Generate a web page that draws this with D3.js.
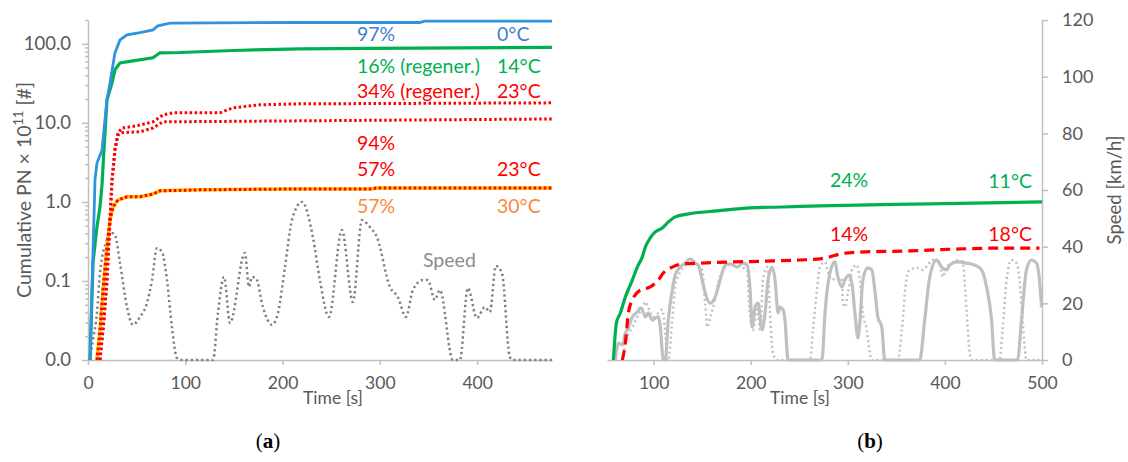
<!DOCTYPE html>
<html>
<head>
<meta charset="utf-8">
<script src="https://cdn.jsdelivr.net/npm/d3@7"></script>
<style>
  html, body { margin: 0; padding: 0; background: #ffffff; }
  svg { display: block; }
  text { font-family: Lato, "Open Sans", sans-serif; }
</style>
</head>
<body>
<svg id="chart" width="1128" height="462"></svg>
<script>
// ---------- Panel (a): cumulative particle number, log scale ----------
const aTicksY = [0.01, 0.1, 1, 10, 100];
const aTicksX = [0, 100, 200, 300, 400];

// 0 °C, 97 %
const blueTime = [2.1, 4.1, 7.2, 9.2, 14.4, 15.4, 19.5, 22.6, 27.7, 32.9, 40.1, 53.4, 66.8, 71.9, 84.3, 218, 341, 346, 477];
const blueCum  = [0.01, 0.077, 1.9, 3.1, 4.5, 6.1, 19.5, 32, 77, 112, 130, 138, 150, 169, 183, 186, 186, 194, 194];

// 14 °C, 16 % (regener.)
const greenTime = [2.1, 4.1, 5.1, 9.2, 12.3, 14.4, 16.4, 17.5, 19.5, 24.7, 27.7, 32.9, 46.2, 66.8, 74, 94.6, 149, 218, 287, 477];
const greenCum  = [0.01, 0.063, 0.169, 0.48, 0.86, 1.64, 4.55, 7.5, 19.5, 32, 46.9, 57.4, 60.9, 66.5, 76.9, 77.6, 82.3, 86.4, 87.7, 90.3];

// 23 °C, 34 % (regener.)
const redRegTime = [12.3, 16.4, 19.5, 22.6, 24.7, 25.7, 27.7, 30.8, 34.9, 50.4, 66.8, 77.1, 87.4, 135.7, 149, 176.8, 218, 477];
const redRegCum  = [0.01, 0.032, 0.103, 0.59, 1.9, 2.5, 4.55, 7.5, 8.6, 9.2, 10.3, 12.6, 13.4, 13.4, 15.5, 16.9, 17.4, 17.9];

// 23 °C, 94 %
const red94Time = [12.3, 16.4, 19.5, 22.6, 24.7, 25.7, 27.7, 30.8, 34.9, 53.4, 66.8, 77.1, 218, 477];
const red94Cum  = [0.01, 0.032, 0.103, 0.59, 1.9, 2.5, 4.55, 7.0, 7.5, 7.7, 8.6, 10.3, 10.6, 11.2];

// 23 °C, 57 %
const red57Time = [9.2, 12.3, 15.4, 19.5, 22.6, 25.7, 30.8, 40.1, 53.4, 66.8, 74, 115, 218, 293, 296, 477];
const red57Cum  = [0.01, 0.024, 0.077, 0.27, 0.59, 0.86, 1.06, 1.16, 1.16, 1.26, 1.38, 1.42, 1.46, 1.46, 1.5, 1.5];

// 30 °C, 57 %
const orangeTime = [9.2, 12.3, 15.4, 19.5, 22.6, 25.7, 30.8, 40.1, 53.4, 66.8, 74, 115, 218, 293, 296, 477];
const orangeCum  = [0.01, 0.024, 0.077, 0.27, 0.59, 0.86, 1.06, 1.16, 1.16, 1.26, 1.38, 1.42, 1.46, 1.46, 1.5, 1.5];

// vehicle speed [km/h] (secondary, hidden axis)
const speedATime = [2.1, 5.1, 9.2, 12.3, 19.5, 24.7, 27.7, 32.9, 40.1, 46.2, 53.4, 60.6, 65.8, 70.9, 76.1, 81.2, 86.3, 91.5, 97.6, 128.5, 133.6, 139.8, 146, 161.3, 165.5, 168.5, 172.7, 179.8, 189.1, 195.3, 202.5, 209.7, 219.9, 231.2, 238.4, 247.7, 261, 272.3, 281.6, 289.8, 297, 310.4, 318.6, 326.8, 334, 344.3, 349.4, 356.6, 361.7, 375.1, 382.3, 390.5, 399.8, 408, 413.1, 419.3, 425.5, 433.7, 436.8, 476.9];
const speedA     = [0, 7.1, 16.6, 30.7, 42.4, 44.8, 44.1, 34.2, 18.7, 12.4, 15.2, 20.1, 28.2, 39.5, 38.1, 28.2, 11.6, 0.7, 0, 0, 16.6, 29.3, 13.1, 37.8, 25.8, 29.3, 28.9, 18.7, 12.4, 16.6, 32.8, 49.4, 55.8, 43.4, 28.2, 15.2, 45.9, 20.5, 49.4, 46.9, 43.4, 25.8, 22.2, 15.2, 24.7, 28.2, 28.2, 21.2, 24.7, 0, 0, 25.4, 14.8, 18.7, 16.9, 33.2, 30.7, 1, 0, 0];

// ---------- Panel (b): cumulative PN (relative) and speed ----------
const bTicksX = [100, 200, 300, 400, 500];
const bTicksSpeed = [0, 20, 40, 60, 80, 100, 120];

// 11 °C, 24 %
const bGreenTime = [58.6, 61.7, 65.8, 70.9, 78.1, 83.2, 88.4, 91.5, 96.6, 101.7, 108.9, 115.1, 122.3, 134.6, 165.5, 199.4, 233.3, 271.3, 384.4, 500];
const bGreenCum  = [0, 13.1, 16.6, 22.2, 28.2, 32.8, 36.4, 39.9, 43.1, 45.2, 46.6, 48.7, 50.5, 51.5, 52.6, 53.7, 54.0, 54.4, 55.1, 55.8];

// 18 °C, 14 %
const bRedTime = [67.8, 70.9, 74, 78.1, 86.3, 96.6, 104.8, 110, 119.2, 129.5, 148, 181.9, 216.9, 250.8, 271.3, 281.6, 291.9, 312.4, 363.8, 415.2, 456.3, 497.4];
const bRedCum  = [0, 6.0, 16.6, 21.2, 24.7, 25.8, 28.2, 30.7, 32.8, 33.9, 34.2, 34.6, 34.9, 35.3, 35.7, 36.4, 37.4, 38.1, 38.5, 39.2, 39.5, 39.5];

// speed traces [km/h]
const bSpeedSolidTime = [60.6, 63.7, 67.8, 70.9, 73, 78.1, 83.2, 86.3, 89.4, 91.5, 94.5, 98.7, 101.7, 104.8, 106.9, 110, 112, 115.1, 119.2, 122.3, 127.4, 132.6, 137.7, 142.9, 145.9, 150, 153.1, 158.3, 163.4, 168.5, 173.7, 178.8, 186, 192.2, 196.3, 199.4, 201.4, 204.5, 207.6, 211.7, 214.8, 217.9, 222, 225.1, 228.2, 230.2, 233.3, 235.3, 238.4, 273.4, 276.5, 281.6, 286.7, 289.8, 293.9, 297, 301.1, 304.2, 307.3, 310.4, 312.4, 315.5, 320.6, 324.8, 327.8, 330.9, 335, 338.1, 374.1, 379.2, 384.4, 391.6, 396.7, 401.8, 404.9, 412.1, 422.4, 432.7, 437.8, 442.9, 448.1, 451.2, 474.8, 478.9, 484, 489.2, 494.3, 497.4, 499.5];
const bSpeedSolid     = [0, 6.0, 5.3, 9.5, 10.6, 15.2, 16.9, 18.4, 16.9, 15.2, 16.6, 14.1, 14.8, 15.2, 11.6, 0, 0, 14.1, 24.7, 30.0, 32.8, 34.2, 35.7, 34.2, 33.5, 28.2, 23.7, 20.1, 22.2, 28.2, 33.5, 33.9, 32.8, 34.2, 33.5, 24.7, 11.6, 18.7, 20.1, 10.6, 16.6, 28.2, 32.8, 28.2, 16.6, 18.7, 17.7, 14.1, 0, 0, 16.6, 30.7, 34.6, 29.3, 25.8, 28.2, 30.0, 27.2, 16.6, 7.8, 13.1, 28.2, 32.5, 31.8, 24.7, 15.2, 11.6, 0, 0, 14.1, 29.3, 35.3, 32.8, 31.8, 33.5, 34.6, 34.2, 33.2, 31.8, 25.8, 14.1, 0, 0, 14.1, 31.8, 35.3, 34.2, 28.2, 18.7];

const bSpeedDotTime = [67.8, 73, 78.1, 83.2, 88.4, 91.5, 94.5, 99.7, 104.8, 108.9, 112, 114.1, 115.1, 119.2, 122.3, 127.4, 132.6, 137.7, 144.9, 150, 153.1, 155.2, 158.3, 161.4, 166.5, 171.6, 178.8, 189.1, 196.3, 198.3, 202.5, 206.6, 209.7, 212.7, 216.9, 217.9, 219.9, 223, 227.1, 261, 264.1, 268.2, 271.3, 276.5, 279.5, 283.6, 288.8, 293.9, 295, 297, 300.1, 305.2, 309.4, 312.4, 315.5, 319.6, 322.7, 324.8, 351.5, 355.6, 360.7, 363.8, 371, 377.2, 382.3, 387.5, 394.6, 397.7, 401.8, 408, 415.2, 418.3, 422.4, 425.5, 427.5, 456.3, 459.4, 463.5, 468.6, 473.8, 476.9, 480, 484, 499.5];
const bSpeedDot     = [0, 8.1, 11.6, 15.2, 18.4, 20.5, 18.4, 15.2, 16.6, 17.7, 9.5, 0, 0, 14.1, 25.8, 31.1, 33.5, 34.2, 33.5, 31.8, 20.1, 11.6, 15.2, 18.7, 27.2, 31.8, 33.5, 32.8, 31.8, 20.1, 10.6, 18.7, 10.6, 28.2, 32.8, 30.7, 16.6, 2.5, 0, 0, 10.6, 24.7, 32.8, 34.6, 31.1, 28.2, 29.3, 28.2, 20.1, 18.7, 23.7, 32.5, 33.5, 28.2, 16.6, 10.6, 2.5, 0, 0, 10.6, 29.3, 31.8, 32.5, 31.8, 33.5, 35.3, 34.2, 29.3, 32.8, 34.2, 35.3, 34.6, 16.6, 2.5, 0, 0, 10.6, 28.2, 35.3, 34.2, 28.2, 14.1, 0, 0];

// ---------- drawing ----------
const svg = d3.select("#chart");
const AXIS = "#BFBFBF", TICKTXT = "#595959";
const BLUE = "#2F93DD", BLUE_TXT = "#3F7FD0", GREEN = "#00B050", RED = "#FF0000",
      YELLOW = "#FFC000", ORANGE_TXT = "#F98A3A", GRAY = "#7F7F7F", LIGHT = "#C0C0C0";

const zip = (t, v) => t.map((d, i) => [d, v[i]]);

function styleAxis(g, size) {
  g.select(".domain").attr("stroke", AXIS).attr("stroke-width", 1.5);
  g.selectAll(".tick line").attr("stroke", AXIS).attr("stroke-width", 1.5);
  g.selectAll(".tick text").attr("fill", TICKTXT).style("font-size", (size || 17.5) + "px").style("font-family", "Lato, sans-serif");
}

// Panel (a) scales
const xA = d3.scaleLinear().domain([0, 477]).range([88, 552]);
const yA = d3.scaleLog().domain([0.01, 200]).range([360, 20]);
const ySpeedA = d3.scaleLinear().domain([0, 120]).range([360, 20]);

// minor log ticks
const minorA = [];
[0.01, 0.1, 1, 10, 100].forEach(dec => { for (let k = 2; k <= 9; k++) { const v = dec * k; if (v <= 200.0001) minorA.push(v); } });

svg.append("g").attr("transform", "translate(88,0)")
  .call(d3.axisLeft(yA).tickValues(minorA).tickSize(3).tickFormat(""))
  .call(g => { styleAxis(g); g.select(".domain").remove(); });

svg.append("g").attr("transform", "translate(88,0)")
  .call(d3.axisLeft(yA).tickValues(aTicksY).tickSize(6).tickSizeOuter(0).tickPadding(11).tickFormat(d3.format(".1f")))
  .call(g => styleAxis(g, 18.5));

svg.append("g").attr("transform", "translate(0,360)")
  .call(d3.axisBottom(xA).tickValues(aTicksX).tickSize(5).tickSizeOuter(0))
  .call(g => styleAxis(g, 17.5))
  .call(g => g.selectAll(".tick text").attr("y", 29).attr("dy", null));

const lineA = d3.line().x(d => xA(d[0])).y(d => yA(d[1]));
const lineSpeedA = d3.line().x(d => xA(d[0])).y(d => ySpeedA(d[1])).curve(d3.curveMonotoneX);

// speed trace (dotted, dark gray)
svg.append("path").datum(zip(speedATime, speedA)).attr("d", lineSpeedA)
  .attr("fill", "none").attr("stroke", GRAY).attr("stroke-width", 2.5)
  .attr("stroke-dasharray", "2.2,3");

// 30 °C (solid yellow) with 23 °C 57 % (red dotted) on top
svg.append("path").datum(zip(orangeTime, orangeCum)).attr("d", lineA)
  .attr("fill", "none").attr("stroke", YELLOW).attr("stroke-width", 3.5);
svg.append("path").datum(zip(red57Time, red57Cum)).attr("d", lineA)
  .attr("fill", "none").attr("stroke", RED).attr("stroke-width", 3)
  .attr("stroke-dasharray", "2.5,2.5");

// 23 °C dotted lines
[[red94Time, red94Cum], [redRegTime, redRegCum]].forEach(([t, v]) => {
  svg.append("path").datum(zip(t, v)).attr("d", lineA)
    .attr("fill", "none").attr("stroke", RED).attr("stroke-width", 3)
    .attr("stroke-dasharray", "2.5,2.5");
});

// 14 °C and 0 °C
svg.append("path").datum(zip(greenTime, greenCum)).attr("d", lineA)
  .attr("fill", "none").attr("stroke", GREEN).attr("stroke-width", 3.2);
svg.append("path").datum(zip(blueTime, blueCum)).attr("d", lineA)
  .attr("fill", "none").attr("stroke", BLUE).attr("stroke-width", 2.8);

// annotations (a)
const annA = [
  { text: "97%", x: 357, y: 41, c: BLUE_TXT },
  { text: "0°C", x: 497, y: 41, c: BLUE_TXT },
  { text: "16% (regener.)", x: 357, y: 73, c: GREEN },
  { text: "14°C", x: 497, y: 73, c: GREEN },
  { text: "34% (regener.)", x: 357, y: 98, c: RED },
  { text: "23°C", x: 497, y: 98, c: RED },
  { text: "94%", x: 357, y: 150, c: RED },
  { text: "57%", x: 357, y: 176, c: RED },
  { text: "23°C", x: 497, y: 176, c: RED },
  { text: "57%", x: 357, y: 213, c: ORANGE_TXT },
  { text: "30°C", x: 497, y: 213, c: ORANGE_TXT },
  { text: "Speed", x: 423, y: 267, c: "#8C8C8C" }
];
svg.append("g").selectAll("text").data(annA).join("text")
  .attr("x", d => d.x).attr("y", d => d.y).attr("fill", d => d.c)
  .style("font-size", "19.5px").text(d => d.text);

// y-axis title (a)
const yTitle = svg.append("text")
  .attr("transform", "translate(31,190) rotate(-90)")
  .attr("text-anchor", "middle").attr("fill", TICKTXT).style("font-size", "19.5px");
yTitle.append("tspan").text("Cumulative PN × 10");
yTitle.append("tspan").attr("dy", -8).style("font-size", "13px").text("11");
yTitle.append("tspan").attr("dy", 8).text(" [#]");

svg.append("text").attr("x", 333).attr("y", 404).attr("text-anchor", "middle")
  .attr("fill", TICKTXT).style("font-size", "17.5px").text("Time [s]");

// Panel (b) scales
const xB = d3.scaleLinear().domain([52, 500]).range([607, 1042]);
const ySpeedB = d3.scaleLinear().domain([0, 120]).range([360, 20]);
const yCumB = d3.scaleLinear().domain([0, 120]).range([360, 20]);

svg.append("g").attr("transform", "translate(0,360)")
  .call(d3.axisBottom(xB).tickValues(bTicksX).tickSize(5).tickSizeOuter(0))
  .call(g => styleAxis(g, 17.5))
  .call(g => g.selectAll(".tick text").attr("y", 29).attr("dy", null));

svg.append("g").attr("transform", "translate(1042,0)")
  .call(d3.axisRight(ySpeedB).tickValues(bTicksSpeed).tickSize(6).tickSizeOuter(0).tickPadding(14))
  .call(g => styleAxis(g, 18));

const lineSpeedB = d3.line().x(d => xB(d[0])).y(d => ySpeedB(d[1])).curve(d3.curveMonotoneX);
const lineCumB = d3.line().x(d => xB(d[0])).y(d => yCumB(d[1])).curve(d3.curveMonotoneX);

svg.append("path").datum(zip(bSpeedDotTime, bSpeedDot)).attr("d", lineSpeedB)
  .attr("fill", "none").attr("stroke", LIGHT).attr("stroke-width", 2.5)
  .attr("stroke-dasharray", "2,3");
svg.append("path").datum(zip(bSpeedSolidTime, bSpeedSolid)).attr("d", lineSpeedB)
  .attr("fill", "none").attr("stroke", LIGHT).attr("stroke-width", 3.2);

svg.append("path").datum(zip(bRedTime, bRedCum)).attr("d", lineCumB)
  .attr("fill", "none").attr("stroke", RED).attr("stroke-width", 3.2)
  .attr("stroke-dasharray", "10,6");
svg.append("path").datum(zip(bGreenTime, bGreenCum)).attr("d", lineCumB)
  .attr("fill", "none").attr("stroke", GREEN).attr("stroke-width", 3.2);

const annB = [
  { text: "24%", x: 830, y: 187, c: GREEN, a: "start" },
  { text: "11°C", x: 1032, y: 188, c: GREEN, a: "end" },
  { text: "14%", x: 830, y: 241, c: RED, a: "start" },
  { text: "18°C", x: 1032, y: 241, c: RED, a: "end" }
];
svg.append("g").selectAll("text").data(annB).join("text")
  .attr("x", d => d.x).attr("y", d => d.y).attr("fill", d => d.c)
  .attr("text-anchor", d => d.a).style("font-size", "19.5px").text(d => d.text);

svg.append("text").attr("transform", "translate(1121,190) rotate(-90)")
  .attr("text-anchor", "middle").attr("fill", TICKTXT).style("font-size", "18.5px")
  .text("Speed [km/h]");

svg.append("text").attr("x", 800).attr("y", 404).attr("text-anchor", "middle")
  .attr("fill", TICKTXT).style("font-size", "17.5px").text("Time [s]");

// panel captions
function caption(x, letter) {
  const t = svg.append("text").attr("x", x).attr("y", 448).attr("text-anchor", "middle")
    .style("font-family", "'Liberation Serif', 'DejaVu Serif', serif").style("font-size", "21px").attr("fill", "#000");
  t.append("tspan").text("(");
  t.append("tspan").style("font-weight", "bold").text(letter);
  t.append("tspan").text(")");
}
caption(268, "a");
caption(870, "b");
</script>
</body>
</html>
